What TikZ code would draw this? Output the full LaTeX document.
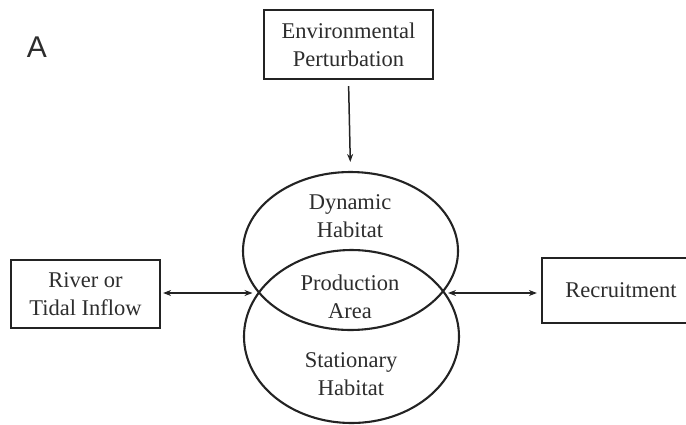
\documentclass[tikz,border=0pt]{standalone}
\usepackage{fontspec}
\setmainfont{Liberation Serif}
\newfontfamily\panelfont{Liberation Sans}
\usetikzlibrary{shapes.geometric,arrows.meta}
\definecolor{inkgray}{RGB}{35,35,35}
\definecolor{textgray}{RGB}{45,45,45}
\tikzset{
  flow box/.style={draw=inkgray,line width=2.2pt,align=center,inner sep=0pt,text=textgray},
  habitat/.style={ellipse,draw=inkgray,line width=2.1pt,inner sep=0pt},
  habitat label/.style={align=center,text=textgray},
  flow link/.style={->,>={Stealth[length=8pt,width=6pt]},line width=1.5pt,draw=inkgray},
  flow both/.style={<->,>={Stealth[length=8pt,width=6pt]},line width=1.5pt,draw=inkgray}
}

\begin{document}
\begin{tikzpicture}[x=1pt,y=-1pt,font=\fontsize{22.5}{28}\selectfont]
    \useasboundingbox (0,0) rectangle (686,424);
    \node[text=textgray,font=\panelfont\fontsize{30}{30}\selectfont] (panel) at (37,47) {A};
    % the two habitats
    \node[habitat,minimum width=215pt,minimum height=158pt] (dyn) at (350.5,251) {};
    \node[habitat,minimum width=215pt,minimum height=173pt] (stat) at (351.5,336.5) {};
    \node[habitat label] (dynlabel) at (350,216) {Dynamic\\Habitat};
    \node[habitat label] (prodlabel) at (350,297) {Production\\Area};
    \node[habitat label] (statlabel) at (351,374) {Stationary\\Habitat};
    \coordinate (xleft) at (258.5,293);
    \coordinate (xright) at (443,293);
    % boxes
    \node[flow box,minimum width=169pt,minimum height=69pt] (env) at (348.5,44.5) {Environmental\\Perturbation};
    \node[flow box,minimum width=149pt,minimum height=68pt] (river) at (85.5,294) {River or\\Tidal Inflow};
    \node[flow box,minimum width=158pt,minimum height=65pt] (recruit) at (621,290.5) {Recruitment};
    % links
    \draw[flow link,shorten <=6pt,shorten >=9pt] (env.south) -- (dyn.north);
    \draw[flow both,shorten <=2pt,shorten >=6pt] (river.east |- xleft) -- (xleft);
    \draw[flow both,shorten <=5pt,shorten >=4pt] (xright) -- (recruit.west |- xright);
\end{tikzpicture}
\end{document}
